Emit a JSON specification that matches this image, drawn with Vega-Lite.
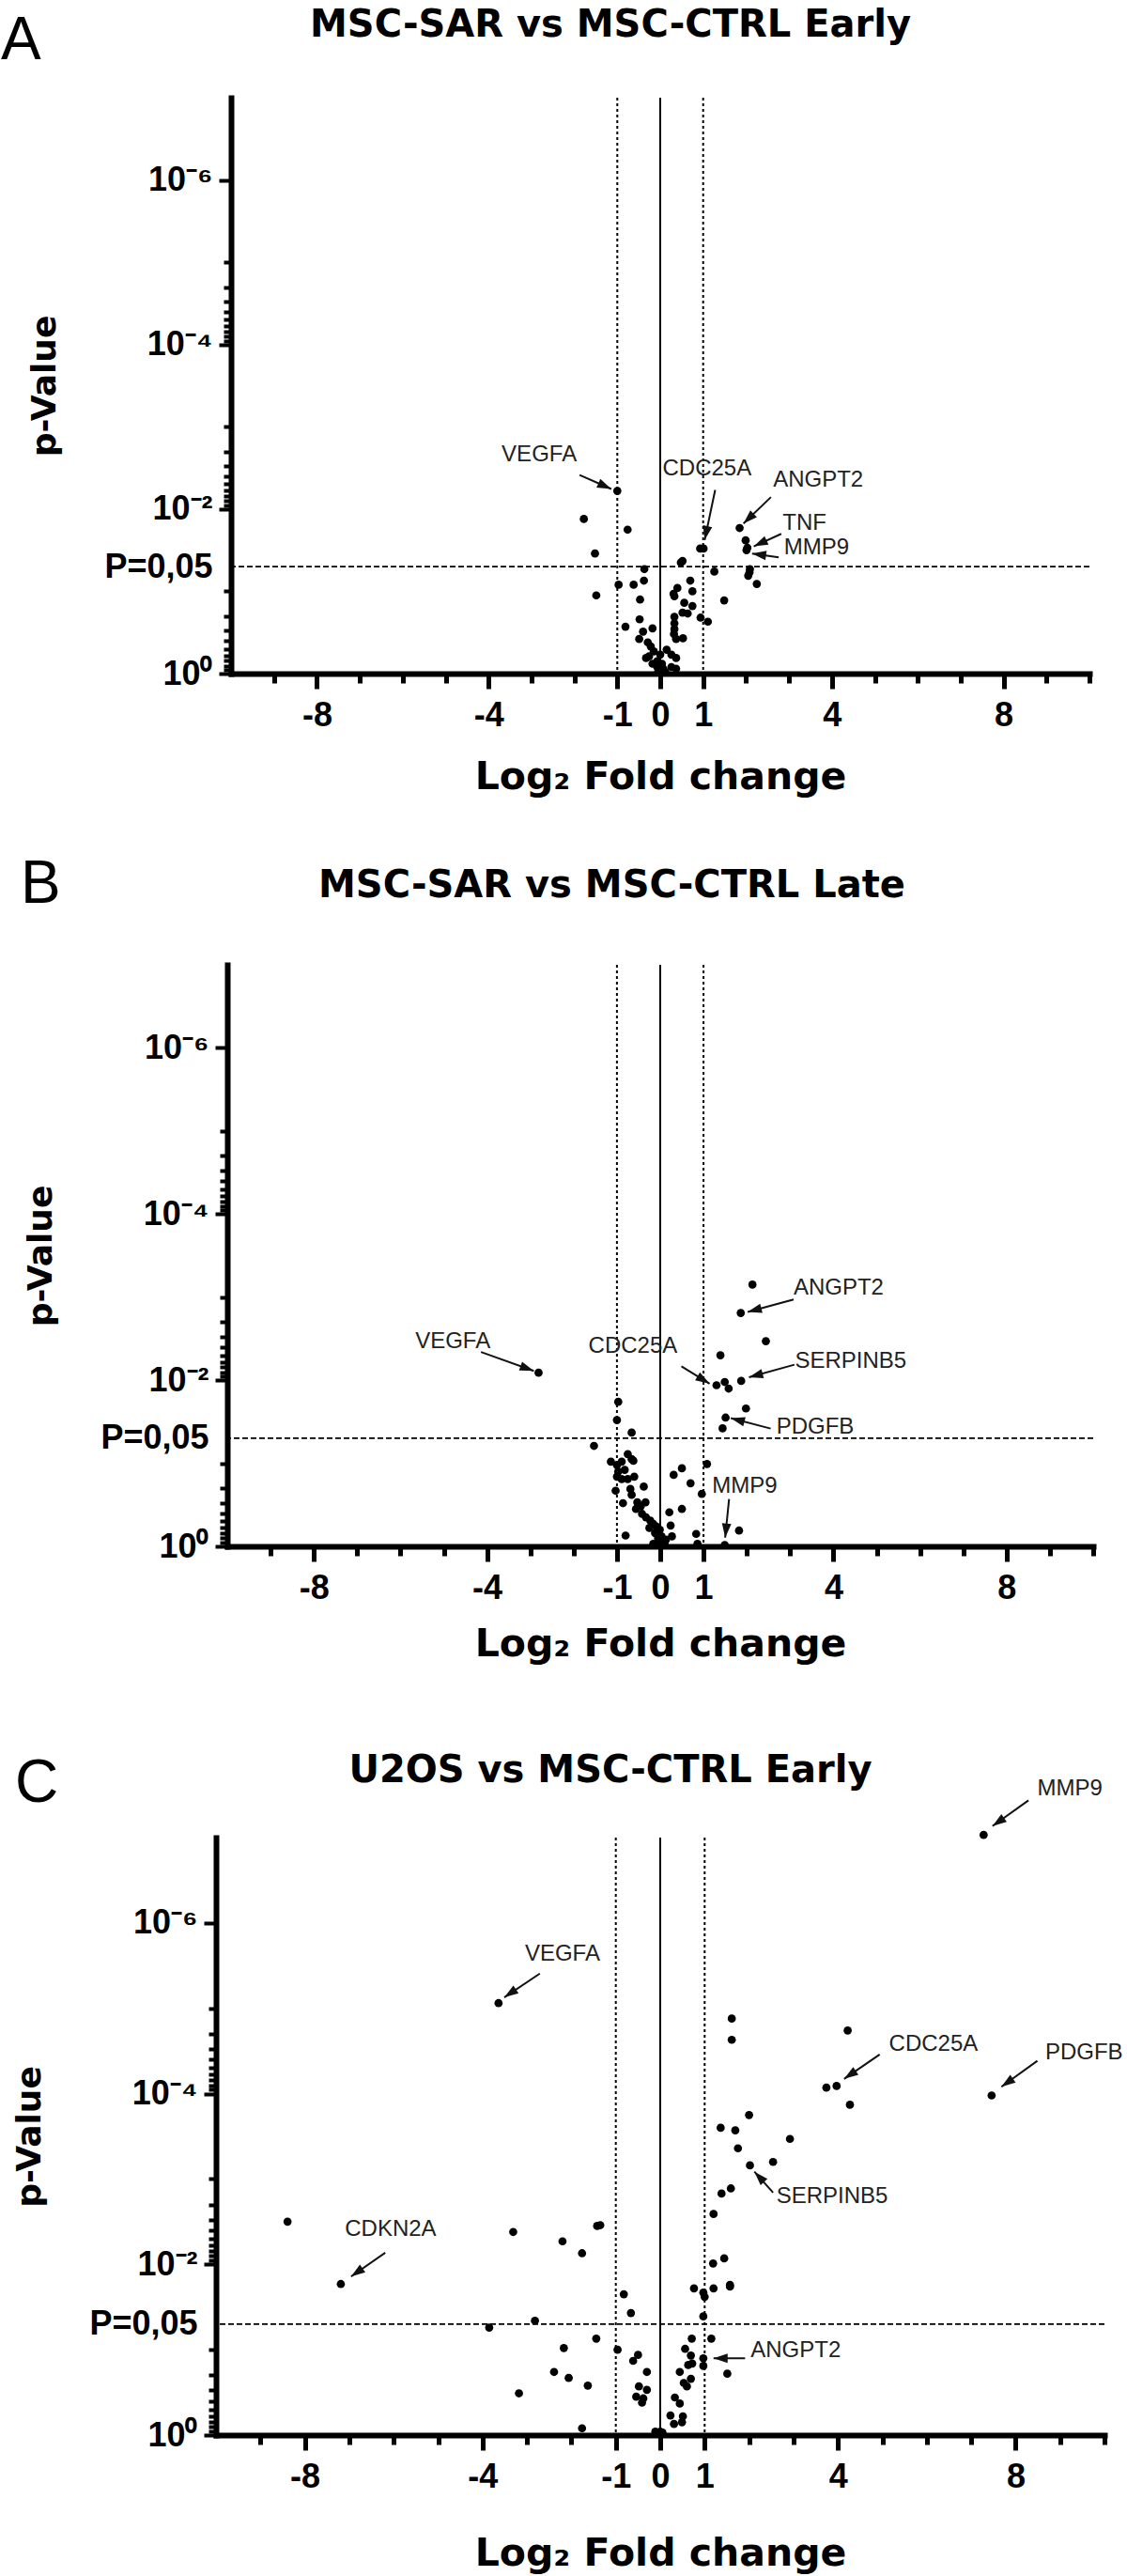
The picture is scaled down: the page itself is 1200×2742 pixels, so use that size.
{
  "$schema": "https://vega.github.io/schema/vega-lite/v6.json",
  "background": "white",
  "autosize": {"type": "pad"},
  "padding": {"left": 0, "top": 7, "right": 4, "bottom": 2},
  "spacing": 310,
  "bounds": "flush",
  "center": true,
  "datasets": {
    "refs": [{"fc": -1, "kind": "dot"}, {"fc": 0, "kind": "solid"}, {"fc": 1, "kind": "dot"}],
    "ptsA": [
      {"fc": -1.00, "p": 0.00603}, {"fc": -1.78, "p": 0.0132}, {"fc": -0.76, "p": 0.0178}, {"fc": -1.52, "p": 0.0347},
      {"fc": -1.49, "p": 0.112}, {"fc": -0.97, "p": 0.0832}, {"fc": -0.62, "p": 0.0832}, {"fc": -0.37, "p": 0.0537},
      {"fc": -0.38, "p": 0.0741}, {"fc": -0.47, "p": 0.126}, {"fc": -0.81, "p": 0.269}, {"fc": -0.48, "p": 0.219},
      {"fc": -0.40, "p": 0.309}, {"fc": -0.18, "p": 0.282}, {"fc": -0.49, "p": 0.380}, {"fc": -0.29, "p": 0.417},
      {"fc": 0.93, "p": 0.0302}, {"fc": 1.01, "p": 0.0302}, {"fc": 0.52, "p": 0.0427}, {"fc": 0.48, "p": 0.0447},
      {"fc": 1.26, "p": 0.0575}, {"fc": 0.70, "p": 0.0741}, {"fc": 0.75, "p": 0.1}, {"fc": 0.40, "p": 0.0912},
      {"fc": 0.33, "p": 0.115}, {"fc": 0.31, "p": 0.107}, {"fc": 1.49, "p": 0.129}, {"fc": 0.56, "p": 0.138},
      {"fc": 0.75, "p": 0.151}, {"fc": 0.52, "p": 0.182}, {"fc": 0.64, "p": 0.186}, {"fc": 0.33, "p": 0.204},
      {"fc": 0.33, "p": 0.245}, {"fc": 0.94, "p": 0.209}, {"fc": 1.11, "p": 0.234}, {"fc": 0.33, "p": 0.288},
      {"fc": 0.32, "p": 0.331}, {"fc": 0.53, "p": 0.372}, {"fc": 0.37, "p": 0.380}, {"fc": 1.85, "p": 0.0170},
      {"fc": 1.99, "p": 0.0240}, {"fc": 2.01, "p": 0.0316}, {"fc": 2.03, "p": 0.0295}, {"fc": 2.09, "p": 0.0537},
      {"fc": 2.08, "p": 0.0589}, {"fc": 2.05, "p": 0.0646}, {"fc": 2.25, "p": 0.0813}, {"fc": -0.26, "p": 0.617},
      {"fc": -0.15, "p": 0.537}, {"fc": -0.07, "p": 0.708}, {"fc": 0.04, "p": 0.759}, {"fc": 0.15, "p": 0.513},
      {"fc": 0.26, "p": 0.589}, {"fc": 0.37, "p": 0.646}, {"fc": -0.07, "p": 0.832}, {"fc": 0.07, "p": 0.871},
      {"fc": 0.26, "p": 0.832}, {"fc": 0.37, "p": 0.871}, {"fc": -0.18, "p": 0.759}, {"fc": 0.00, "p": 0.589},
      {"fc": -0.33, "p": 0.646}, {"fc": -0.22, "p": 0.468}, {"fc": 0.00, "p": 0.955}, {"fc": 0.12, "p": 0.955},
      {"fc": -0.05, "p": 0.955}
    ],
    "ptsB": [
      {"fc": -2.81, "p": 0.00813}, {"fc": 2.13, "p": 0.000708}, {"fc": 1.86, "p": 0.00155}, {"fc": 2.44, "p": 0.00339},
      {"fc": 1.39, "p": 0.00501}, {"fc": 1.87, "p": 0.0102}, {"fc": 1.30, "p": 0.0115}, {"fc": 1.49, "p": 0.0105},
      {"fc": 1.58, "p": 0.0126}, {"fc": 1.98, "p": 0.0219}, {"fc": 1.51, "p": 0.0282}, {"fc": 1.44, "p": 0.0380},
      {"fc": -0.97, "p": 0.0182}, {"fc": -1.00, "p": 0.0302}, {"fc": -0.66, "p": 0.0427}, {"fc": -1.53, "p": 0.0617},
      {"fc": -1.14, "p": 0.0955}, {"fc": -1.00, "p": 0.105}, {"fc": -0.89, "p": 0.0955}, {"fc": -0.75, "p": 0.0776},
      {"fc": -0.66, "p": 0.0891}, {"fc": -0.62, "p": 0.0933}, {"fc": -0.97, "p": 0.126}, {"fc": -0.82, "p": 0.120},
      {"fc": -0.60, "p": 0.145}, {"fc": -0.89, "p": 0.155}, {"fc": -0.75, "p": 0.155}, {"fc": -1.00, "p": 0.145},
      {"fc": -0.38, "p": 0.191}, {"fc": -1.03, "p": 0.214}, {"fc": -0.69, "p": 0.204}, {"fc": -0.66, "p": 0.240},
      {"fc": -0.86, "p": 0.302}, {"fc": -0.53, "p": 0.295}, {"fc": -0.34, "p": 0.295}, {"fc": -0.56, "p": 0.355},
      {"fc": -0.42, "p": 0.407}, {"fc": -0.33, "p": 0.447}, {"fc": -0.23, "p": 0.490}, {"fc": -0.16, "p": 0.537},
      {"fc": -0.09, "p": 0.575}, {"fc": -0.01, "p": 0.631}, {"fc": -0.12, "p": 0.692}, {"fc": 0.03, "p": 0.759},
      {"fc": 0.24, "p": 0.562}, {"fc": 0.21, "p": 0.389}, {"fc": 0.50, "p": 0.355}, {"fc": 0.27, "p": 0.759},
      {"fc": 0.13, "p": 0.832}, {"fc": -0.01, "p": 0.891}, {"fc": -0.16, "p": 0.933}, {"fc": -0.80, "p": 0.741},
      {"fc": 0.83, "p": 0.708}, {"fc": 0.86, "p": 0.933}, {"fc": 1.08, "p": 0.102}, {"fc": 0.50, "p": 0.115},
      {"fc": 0.31, "p": 0.138}, {"fc": 0.70, "p": 0.174}, {"fc": 0.96, "p": 0.234}, {"fc": 1.49, "p": 0.966},
      {"fc": 1.82, "p": 0.646}, {"fc": 0.05, "p": 0.832}, {"fc": 0.10, "p": 0.912}, {"fc": -0.05, "p": 0.80},
      {"fc": 0.08, "p": 0.95}, {"fc": -0.25, "p": 0.60}, {"fc": -0.45, "p": 0.33}
    ],
    "ptsC": [
      {"fc": -8.39, "p": 0.00316}, {"fc": -7.19, "p": 0.0170}, {"fc": -3.64, "p": 0.0000087}, {"fc": -3.31, "p": 0.00417},
      {"fc": -2.20, "p": 0.00537}, {"fc": -1.76, "p": 0.00741}, {"fc": -1.42, "p": 0.00355}, {"fc": -1.35, "p": 0.00347},
      {"fc": -2.82, "p": 0.0457}, {"fc": -3.85, "p": 0.0550}, {"fc": -1.44, "p": 0.0741}, {"fc": -2.17, "p": 0.0955},
      {"fc": -2.39, "p": 0.182}, {"fc": -2.06, "p": 0.214}, {"fc": -1.63, "p": 0.263}, {"fc": -3.18, "p": 0.324},
      {"fc": -1.76, "p": 0.832}, {"fc": -0.96, "p": 0.1}, {"fc": -0.82, "p": 0.0224}, {"fc": -0.66, "p": 0.0372},
      {"fc": -0.61, "p": 0.135}, {"fc": -0.50, "p": 0.115}, {"fc": -0.30, "p": 0.182}, {"fc": -0.48, "p": 0.269},
      {"fc": -0.30, "p": 0.295}, {"fc": -0.54, "p": 0.355}, {"fc": -0.41, "p": 0.417}, {"fc": -0.38, "p": 0.372},
      {"fc": -0.11, "p": 0.912}, {"fc": 0.00, "p": 0.912}, {"fc": 0.05, "p": 0.933},
      {"fc": 0.23, "p": 0.589}, {"fc": 0.31, "p": 0.741}, {"fc": 0.49, "p": 0.708}, {"fc": 0.51, "p": 0.603},
      {"fc": 0.33, "p": 0.363}, {"fc": 0.44, "p": 0.427}, {"fc": 0.44, "p": 0.182}, {"fc": 0.53, "p": 0.245},
      {"fc": 0.60, "p": 0.269}, {"fc": 0.69, "p": 0.219}, {"fc": 0.56, "p": 0.0977}, {"fc": 0.69, "p": 0.117},
      {"fc": 0.72, "p": 0.145}, {"fc": 0.63, "p": 0.151}, {"fc": 0.71, "p": 0.0741}, {"fc": 0.97, "p": 0.126},
      {"fc": 0.97, "p": 0.155}, {"fc": 1.15, "p": 0.0741}, {"fc": 1.51, "p": 0.191}, {"fc": 0.97, "p": 0.0407},
      {"fc": 0.76, "p": 0.0191}, {"fc": 0.97, "p": 0.0214}, {"fc": 1.00, "p": 0.0240}, {"fc": 1.20, "p": 0.0191},
      {"fc": 1.57, "p": 0.0182}, {"fc": 1.57, "p": 0.0174}, {"fc": 1.19, "p": 0.00977}, {"fc": 1.44, "p": 0.00851},
      {"fc": 1.20, "p": 0.00257}, {"fc": 1.38, "p": 0.00148}, {"fc": 1.59, "p": 0.00129}, {"fc": 2.02, "p": 0.000692},
      {"fc": 2.54, "p": 0.000631}, {"fc": 1.61, "p": 0.0000132}, {"fc": 1.61, "p": 0.0000234}, {"fc": 4.22, "p": 0.0000182},
      {"fc": 3.74, "p": 0.0000851}, {"fc": 3.97, "p": 0.0000813}, {"fc": 4.27, "p": 0.000135}, {"fc": 7.46, "p": 0.000105},
      {"fc": 2.00, "p": 0.000178}, {"fc": 1.36, "p": 0.000251}, {"fc": 1.69, "p": 0.000269}, {"fc": 2.92, "p": 0.000339},
      {"fc": 1.75, "p": 0.000437}, {"fc": 7.28, "p": 0.000000093}
    ],
    "annA": [
      {"g": "VEGFA", "lx": -2.82, "lp": 0.00221, "sx": -1.88, "sp": 0.00385, "tx": -1.14, "tp": 0.0057, "ang": 114},
      {"g": "CDC25A", "lx": 1.09, "lp": 0.0032, "sx": 1.28, "sp": 0.00586, "tx": 1.035, "tp": 0.0238, "ang": 192},
      {"g": "ANGPT2", "lx": 3.68, "lp": 0.0045, "sx": 2.58, "sp": 0.00716, "tx": 1.94, "tp": 0.015, "ang": 226},
      {"g": "TNF", "lx": 3.36, "lp": 0.0147, "sx": 2.82, "sp": 0.02, "tx": 2.18, "tp": 0.0284, "ang": 245},
      {"g": "MMP9", "lx": 3.64, "lp": 0.0295, "sx": 2.76, "sp": 0.0386, "tx": 2.14, "tp": 0.0347, "ang": 278}
    ],
    "annB": [
      {"g": "VEGFA", "lx": -4.79, "lp": 0.00347, "sx": -4.14, "sp": 0.00458, "tx": -2.92, "tp": 0.00774, "ang": 110},
      {"g": "CDC25A", "lx": -0.63, "lp": 0.00395, "sx": 0.49, "sp": 0.00679, "tx": 1.14, "tp": 0.011, "ang": 121},
      {"g": "ANGPT2", "lx": 4.12, "lp": 0.00078, "sx": 3.08, "sp": 0.00107, "tx": 2.02, "tp": 0.00151, "ang": 255},
      {"g": "SERPINB5", "lx": 4.40, "lp": 0.00585, "sx": 3.10, "sp": 0.0065, "tx": 2.05, "tp": 0.0092, "ang": 255},
      {"g": "PDGFB", "lx": 3.58, "lp": 0.0365, "sx": 2.55, "sp": 0.0382, "tx": 1.63, "tp": 0.0286, "ang": 285},
      {"g": "MMP9", "lx": 1.95, "lp": 0.19, "sx": 1.59, "sp": 0.269, "tx": 1.50, "tp": 0.786, "ang": 186}
    ],
    "annC": [
      {"g": "MMP9", "lx": 9.22, "lp": 2.69e-8, "sx": 8.29, "sp": 3.66e-8, "tx": 7.48, "tp": 7.33e-8, "ang": 235},
      {"g": "PDGFB", "lx": 9.54, "lp": 3.3e-5, "sx": 8.49, "sp": 4.12e-5, "tx": 7.68, "tp": 8.32e-5, "ang": 235},
      {"g": "CDC25A", "lx": 6.15, "lp": 2.62e-5, "sx": 4.94, "sp": 3.47e-5, "tx": 4.14, "tp": 6.71e-5, "ang": 236},
      {"g": "SERPINB5", "lx": 3.87, "lp": 0.00159, "sx": 2.54, "sp": 0.00144, "tx": 2.12, "tp": 0.000822, "ang": 317},
      {"g": "ANGPT2", "lx": 3.05, "lp": 0.102, "sx": 1.91, "sp": 0.126, "tx": 1.20, "tp": 0.126, "ang": 270},
      {"g": "VEGFA", "lx": -2.20, "lp": 2.29e-6, "sx": -2.71, "sp": 3.92e-6, "tx": -3.51, "tp": 7.45e-6, "ang": 236},
      {"g": "CDKN2A", "lx": -6.07, "lp": 0.00391, "sx": -6.19, "sp": 0.0073, "tx": -6.96, "tp": 0.0139, "ang": 235}
    ]
  },
  "vconcat": [
    {
      "width": 914, "height": 613,
      "title": {"text": "MSC-SAR vs MSC-CTRL Early", "dx": -53, "offset": -36.3},
      "resolve": {"axis": {"x": "independent", "y": "independent"}},
      "layer": [
        {"data": {"name": "refs"}, "mark": {"type": "rule", "strokeWidth": 2, "color": "black"},
         "encoding": {"x": {"field": "fc", "type": "quantitative", "scale": {"domain": [-10, 10], "nice": false, "zero": false}, "axis": null},
           "strokeDash": {"field": "kind", "type": "nominal", "scale": {"domain": ["dot", "solid"], "range": [[3, 3], [1, 0]]}, "legend": null}}},
        {"data": {"values": [{}]}, "mark": {"type": "rule", "strokeWidth": 1.8, "strokeDash": [6, 3], "color": "black"},
         "encoding": {"y": {"datum": 0.05, "type": "quantitative", "scale": {"type": "log", "domain": [1e-7, 1], "reverse": true, "nice": false}, "axis": null}}},
        {"data": {"values": [{}]}, "mark": {"type": "rule", "strokeOpacity": 0},
         "encoding": {"x": {"datum": 0, "type": "quantitative", "scale": {"domain": [-10, 10], "nice": false, "zero": false},
           "axis": {"orient": "top", "domain": false, "ticks": false, "labels": false, "grid": false, "title": "A", "titleFont": "Liberation Sans", "titleFontWeight": "normal", "titleFontSize": 64, "titleX": -245.5, "titleY": -42, "titleAlign": "left", "titleBaseline": "alphabetic", "titleAngle": 0}}}},
        {"data": {"name": "annA"}, "mark": {"type": "rule", "strokeWidth": 2, "color": "#111"},
         "encoding": {"x": {"field": "sx", "type": "quantitative", "scale": {"domain": [-10, 10], "nice": false, "zero": false}, "axis": null}, "y": {"field": "sp", "type": "quantitative", "scale": {"type": "log", "domain": [1e-7, 1], "reverse": true, "nice": false}, "axis": null}, "x2": {"field": "tx"}, "y2": {"field": "tp"}}},
        {"data": {"name": "annA"}, "mark": {"type": "point", "shape": "M0,0L0.5,1.5L-0.5,1.5Z", "filled": true, "size": 400, "color": "#111", "opacity": 1},
         "encoding": {"x": {"field": "tx", "type": "quantitative", "scale": {"domain": [-10, 10], "nice": false, "zero": false}, "axis": null}, "y": {"field": "tp", "type": "quantitative", "scale": {"type": "log", "domain": [1e-7, 1], "reverse": true, "nice": false}, "axis": null}, "angle": {"field": "ang", "type": "quantitative", "scale": null}}},
        {"data": {"name": "annA"}, "mark": {"type": "text", "font": "Liberation Sans", "fontSize": 24, "color": "#222", "align": "center", "baseline": "middle"},
         "encoding": {"x": {"field": "lx", "type": "quantitative", "scale": {"domain": [-10, 10], "nice": false, "zero": false}, "axis": null}, "y": {"field": "lp", "type": "quantitative", "scale": {"type": "log", "domain": [1e-7, 1], "reverse": true, "nice": false}, "axis": null}, "text": {"field": "g"}}},
        {"data": {"name": "ptsA"}, "mark": {"type": "circle", "size": 76, "color": "black", "opacity": 1},
         "encoding": {
           "x": {"field": "fc", "type": "quantitative", "scale": {"domain": [-10, 10], "nice": false, "zero": false},
             "axis": {"orient": "bottom", "values": [-9, -8, -7, -6, -5, -4, -3, -2, -1, 0, 1, 2, 3, 4, 5, 6, 7, 8, 9, 10],
               "labelExpr": "indexof([-8,-4,-1,0,1,4,8], datum.value) >= 0 ? (datum.value < 0 ? '-' + abs(datum.value) : '' + datum.value) : ''",
               "tickSize": {"condition": {"test": "indexof([-8,-4,-1,0,1,4,8], datum.value) >= 0", "value": 16}, "value": 10},
               "labelPadding": 11, "title": "Log₂ Fold change", "titlePadding": 28}},
           "y": {"field": "p", "type": "quantitative", "scale": {"type": "log", "domain": [1e-7, 1], "reverse": true, "nice": false},
             "axis": {"orient": "left", "values": [1, 0.9, 0.8, 0.7, 0.6, 0.5, 0.4, 0.3, 0.2, 0.1, 0.05, 0.01, 0.009, 0.008, 0.007, 0.006, 0.005, 0.004, 0.003, 0.002, 0.001, 0.0001, 0.00009, 0.00008, 0.00007, 0.00006, 0.00005, 0.00004, 0.00003, 0.00002, 0.00001, 0.000001],
               "labelExpr": "datum.value === 1 ? '10⁰' : datum.value === 0.05 ? 'P=0,05' : datum.value === 0.01 ? '10⁻²' : datum.value === 0.0001 ? '10⁻⁴' : datum.value === 0.000001 ? '10⁻⁶' : ''",
               "tickSize": {"condition": {"test": "datum.value === 1 || datum.value === 0.05 || datum.value === 0.01 || datum.value === 0.0001 || datum.value === 0.000001", "value": 13}, "value": 8},
               "tickOpacity": {"condition": {"test": "datum.value === 0.05", "value": 0}, "value": 1},
               "labelPadding": 7, "title": "p-Value", "titlePadding": 44}}
         }}
      ]
    },
    {
      "width": 922, "height": 619,
      "title": {"text": "MSC-SAR vs MSC-CTRL Late", "dx": -51.5, "offset": -53.2},
      "resolve": {"axis": {"x": "independent", "y": "independent"}},
      "layer": [
        {"data": {"name": "refs"}, "mark": {"type": "rule", "strokeWidth": 2, "color": "black"},
         "encoding": {"x": {"field": "fc", "type": "quantitative", "scale": {"domain": [-10, 10], "nice": false, "zero": false}, "axis": null},
           "strokeDash": {"field": "kind", "type": "nominal", "scale": {"domain": ["dot", "solid"], "range": [[3, 3], [1, 0]]}, "legend": null}}},
        {"data": {"values": [{}]}, "mark": {"type": "rule", "strokeWidth": 1.8, "strokeDash": [6, 3], "color": "black"},
         "encoding": {"y": {"datum": 0.05, "type": "quantitative", "scale": {"type": "log", "domain": [1e-7, 1], "reverse": true, "nice": false}, "axis": null}}},
        {"data": {"values": [{}]}, "mark": {"type": "rule", "strokeOpacity": 0},
         "encoding": {"x": {"datum": 0, "type": "quantitative", "scale": {"domain": [-10, 10], "nice": false, "zero": false},
           "axis": {"orient": "top", "domain": false, "ticks": false, "labels": false, "grid": false, "title": "B", "titleFont": "Liberation Sans", "titleFontWeight": "normal", "titleFontSize": 64, "titleX": -220.5, "titleY": -66.2, "titleAlign": "left", "titleBaseline": "alphabetic", "titleAngle": 0}}}},
        {"data": {"name": "annB"}, "mark": {"type": "rule", "strokeWidth": 2, "color": "#111"},
         "encoding": {"x": {"field": "sx", "type": "quantitative", "scale": {"domain": [-10, 10], "nice": false, "zero": false}, "axis": null}, "y": {"field": "sp", "type": "quantitative", "scale": {"type": "log", "domain": [1e-7, 1], "reverse": true, "nice": false}, "axis": null}, "x2": {"field": "tx"}, "y2": {"field": "tp"}}},
        {"data": {"name": "annB"}, "mark": {"type": "point", "shape": "M0,0L0.5,1.5L-0.5,1.5Z", "filled": true, "size": 400, "color": "#111", "opacity": 1},
         "encoding": {"x": {"field": "tx", "type": "quantitative", "scale": {"domain": [-10, 10], "nice": false, "zero": false}, "axis": null}, "y": {"field": "tp", "type": "quantitative", "scale": {"type": "log", "domain": [1e-7, 1], "reverse": true, "nice": false}, "axis": null}, "angle": {"field": "ang", "type": "quantitative", "scale": null}}},
        {"data": {"name": "annB"}, "mark": {"type": "text", "font": "Liberation Sans", "fontSize": 24, "color": "#222", "align": "center", "baseline": "middle"},
         "encoding": {"x": {"field": "lx", "type": "quantitative", "scale": {"domain": [-10, 10], "nice": false, "zero": false}, "axis": null}, "y": {"field": "lp", "type": "quantitative", "scale": {"type": "log", "domain": [1e-7, 1], "reverse": true, "nice": false}, "axis": null}, "text": {"field": "g"}}},
        {"data": {"name": "ptsB"}, "mark": {"type": "circle", "size": 76, "color": "black", "opacity": 1},
         "encoding": {
           "x": {"field": "fc", "type": "quantitative", "scale": {"domain": [-10, 10], "nice": false, "zero": false},
             "axis": {"orient": "bottom", "values": [-9, -8, -7, -6, -5, -4, -3, -2, -1, 0, 1, 2, 3, 4, 5, 6, 7, 8, 9, 10],
               "labelExpr": "indexof([-8,-4,-1,0,1,4,8], datum.value) >= 0 ? (datum.value < 0 ? '-' + abs(datum.value) : '' + datum.value) : ''",
               "tickSize": {"condition": {"test": "indexof([-8,-4,-1,0,1,4,8], datum.value) >= 0", "value": 16}, "value": 10},
               "labelPadding": 11, "title": "Log₂ Fold change", "titlePadding": 22}},
           "y": {"field": "p", "type": "quantitative", "scale": {"type": "log", "domain": [1e-7, 1], "reverse": true, "nice": false},
             "axis": {"orient": "left", "values": [1, 0.9, 0.8, 0.7, 0.6, 0.5, 0.4, 0.3, 0.2, 0.1, 0.05, 0.01, 0.009, 0.008, 0.007, 0.006, 0.005, 0.004, 0.003, 0.002, 0.001, 0.0001, 0.00009, 0.00008, 0.00007, 0.00006, 0.00005, 0.00004, 0.00003, 0.00002, 0.00001, 0.000001],
               "labelExpr": "datum.value === 1 ? '10⁰' : datum.value === 0.05 ? 'P=0,05' : datum.value === 0.01 ? '10⁻²' : datum.value === 0.0001 ? '10⁻⁴' : datum.value === 0.000001 ? '10⁻⁶' : ''",
               "tickSize": {"condition": {"test": "datum.value === 1 || datum.value === 0.05 || datum.value === 0.01 || datum.value === 0.0001 || datum.value === 0.000001", "value": 13}, "value": 8},
               "tickOpacity": {"condition": {"test": "datum.value === 0.05", "value": 0}, "value": 1},
               "labelPadding": 7, "title": "p-Value", "titlePadding": 44}}
         }}
      ]
    },
    {
      "width": 946, "height": 636,
      "title": {"text": "U2OS vs MSC-CTRL Early", "dx": -53, "offset": -38.3},
      "resolve": {"axis": {"x": "independent", "y": "independent"}},
      "layer": [
        {"data": {"name": "refs"}, "mark": {"type": "rule", "strokeWidth": 2, "color": "black"},
         "encoding": {"x": {"field": "fc", "type": "quantitative", "scale": {"domain": [-10, 10], "nice": false, "zero": false}, "axis": null},
           "strokeDash": {"field": "kind", "type": "nominal", "scale": {"domain": ["dot", "solid"], "range": [[3, 3], [1, 0]]}, "legend": null}}},
        {"data": {"values": [{}]}, "mark": {"type": "rule", "strokeWidth": 1.8, "strokeDash": [6, 3], "color": "black"},
         "encoding": {"y": {"datum": 0.05, "type": "quantitative", "scale": {"type": "log", "domain": [1e-7, 1], "reverse": true, "nice": false}, "axis": null}}},
        {"data": {"values": [{}]}, "mark": {"type": "rule", "strokeOpacity": 0},
         "encoding": {"x": {"datum": 0, "type": "quantitative", "scale": {"domain": [-10, 10], "nice": false, "zero": false},
           "axis": {"orient": "top", "domain": false, "ticks": false, "labels": false, "grid": false, "title": "C", "titleFont": "Liberation Sans", "titleFontWeight": "normal", "titleFontSize": 64, "titleX": -214.5, "titleY": -38.2, "titleAlign": "left", "titleBaseline": "alphabetic", "titleAngle": 0}}}},
        {"data": {"name": "annC"}, "mark": {"type": "rule", "strokeWidth": 2, "color": "#111"},
         "encoding": {"x": {"field": "sx", "type": "quantitative", "scale": {"domain": [-10, 10], "nice": false, "zero": false}, "axis": null}, "y": {"field": "sp", "type": "quantitative", "scale": {"type": "log", "domain": [1e-7, 1], "reverse": true, "nice": false}, "axis": null}, "x2": {"field": "tx"}, "y2": {"field": "tp"}}},
        {"data": {"name": "annC"}, "mark": {"type": "point", "shape": "M0,0L0.5,1.5L-0.5,1.5Z", "filled": true, "size": 400, "color": "#111", "opacity": 1},
         "encoding": {"x": {"field": "tx", "type": "quantitative", "scale": {"domain": [-10, 10], "nice": false, "zero": false}, "axis": null}, "y": {"field": "tp", "type": "quantitative", "scale": {"type": "log", "domain": [1e-7, 1], "reverse": true, "nice": false}, "axis": null}, "angle": {"field": "ang", "type": "quantitative", "scale": null}}},
        {"data": {"name": "annC"}, "mark": {"type": "text", "font": "Liberation Sans", "fontSize": 24, "color": "#222", "align": "center", "baseline": "middle"},
         "encoding": {"x": {"field": "lx", "type": "quantitative", "scale": {"domain": [-10, 10], "nice": false, "zero": false}, "axis": null}, "y": {"field": "lp", "type": "quantitative", "scale": {"type": "log", "domain": [1e-7, 1], "reverse": true, "nice": false}, "axis": null}, "text": {"field": "g"}}},
        {"data": {"name": "ptsC"}, "mark": {"type": "circle", "size": 76, "color": "black", "opacity": 1},
         "encoding": {
           "x": {"field": "fc", "type": "quantitative", "scale": {"domain": [-10, 10], "nice": false, "zero": false},
             "axis": {"orient": "bottom", "values": [-9, -8, -7, -6, -5, -4, -3, -2, -1, 0, 1, 2, 3, 4, 5, 6, 7, 8, 9, 10],
               "labelExpr": "indexof([-8,-4,-1,0,1,4,8], datum.value) >= 0 ? (datum.value < 0 ? '-' + abs(datum.value) : '' + datum.value) : ''",
               "tickSize": {"condition": {"test": "indexof([-8,-4,-1,0,1,4,8], datum.value) >= 0", "value": 16}, "value": 10},
               "labelPadding": 11, "title": "Log₂ Fold change", "titlePadding": 44}},
           "y": {"field": "p", "type": "quantitative", "scale": {"type": "log", "domain": [1e-7, 1], "reverse": true, "nice": false},
             "axis": {"orient": "left", "values": [1, 0.9, 0.8, 0.7, 0.6, 0.5, 0.4, 0.3, 0.2, 0.1, 0.05, 0.01, 0.009, 0.008, 0.007, 0.006, 0.005, 0.004, 0.003, 0.002, 0.001, 0.0001, 0.00009, 0.00008, 0.00007, 0.00006, 0.00005, 0.00004, 0.00003, 0.00002, 0.00001, 0.000001],
               "labelExpr": "datum.value === 1 ? '10⁰' : datum.value === 0.05 ? 'P=0,05' : datum.value === 0.01 ? '10⁻²' : datum.value === 0.0001 ? '10⁻⁴' : datum.value === 0.000001 ? '10⁻⁶' : ''",
               "tickSize": {"condition": {"test": "datum.value === 1 || datum.value === 0.05 || datum.value === 0.01 || datum.value === 0.0001 || datum.value === 0.000001", "value": 13}, "value": 8},
               "tickOpacity": {"condition": {"test": "datum.value === 0.05", "value": 0}, "value": 1},
               "labelPadding": 7, "title": "p-Value", "titlePadding": 44}}
         }}
      ]
    }
  ],
  "config": {
    "view": {"stroke": null},
    "font": "Liberation Sans",
    "axis": {"domainColor": "black", "domainWidth": 6, "domainCap": "square", "tickColor": "black", "tickWidth": 5, "labelColor": "black", "titleColor": "black", "grid": false,
      "labelFont": "Liberation Sans", "titleFont": "DejaVu Sans", "labelFontWeight": "bold", "titleFontWeight": "bold", "labelFontSize": 36, "titleFontSize": 40,
      "labelOverlap": false, "labelBound": false, "labelFlush": false},
    "axisX": {"titleFontSize": 41, "titleBaseline": "top"},
    "axisY": {"titleFontSize": 36, "tickWidth": 4},
    "title": {"font": "DejaVu Sans", "fontWeight": "bold", "fontSize": 40, "color": "black", "anchor": "middle", "frame": "group"}
  }
}
